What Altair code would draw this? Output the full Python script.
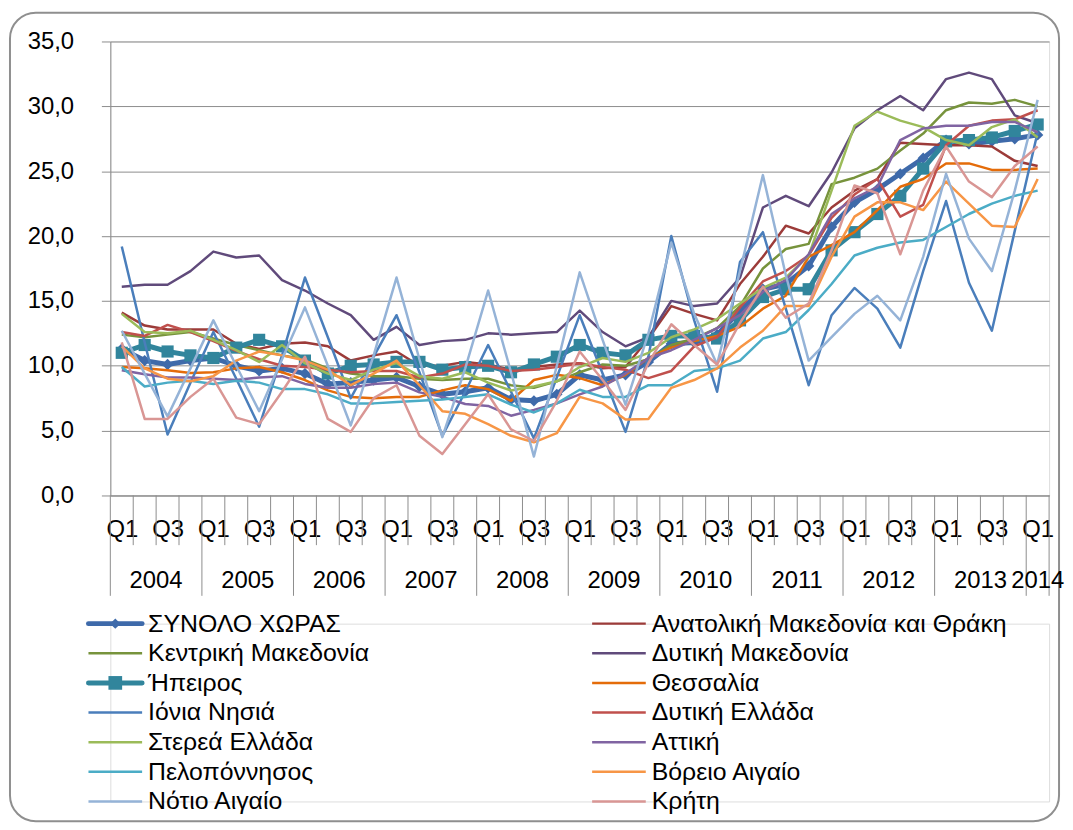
import json
import pandas as pd
import altair as alt

# ---------------- data ----------------
years = ["2004", "2005", "2006", "2007", "2008", "2009", "2010", "2011", "2012", "2013", "2014"]
quarters = ["Q1", "Q2", "Q3", "Q4"]
n_periods = 41  # 2004 Q1 .. 2014 Q1
y_ticks = [0, 5, 10, 15, 20, 25, 30, 35]

names = [
    "ΣΥΝΟΛΟ ΧΩΡΑΣ", "Ανατολική Μακεδονία και Θράκη",
    "Κεντρική Μακεδονία", "Δυτική Μακεδονία",
    "Ήπειρος", "Θεσσαλία",
    "Ιόνια Νησιά", "Δυτική Ελλάδα",
    "Στερεά Ελλάδα", "Αττική",
    "Πελοπόννησος", "Βόρειο Αιγαίο",
    "Νότιο Αιγαίο", "Κρήτη",
]
colors = [
    "#3E6AAA", "#9C3B39",
    "#77933C", "#604A7B",
    "#31859C", "#E46C0A",
    "#4A7EBB", "#C0504D",
    "#9BBB59", "#8064A2",
    "#4BACC6", "#F79646",
    "#95B3D7", "#D99694",
]
thick_names = ["ΣΥΝΟΛΟ ΧΩΡΑΣ", "Ήπειρος"]
marker_shapes = {"ΣΥΝΟΛΟ ΧΩΡΑΣ": "diamond", "Ήπειρος": "square"}

synolo = [11.3, 10.4, 10.1, 10.4, 10.6, 10.0, 9.6, 9.8, 9.4, 8.6, 8.7, 8.9, 9.1, 8.4, 7.8, 8.0, 8.3, 7.4, 7.3, 7.8,
          9.3, 8.9, 9.3, 10.3, 11.7, 11.8, 12.4, 14.2, 15.9, 16.3, 17.7, 20.7, 22.6, 23.6, 24.8, 26.0, 27.4, 27.1,
          27.3, 27.5, 27.8]
anatoliki = [14.1, 13.1, 12.8, 12.8, 12.8, 11.7, 11.3, 11.7, 11.8, 11.5, 10.4, 10.8, 11.1, 10.0, 10.0, 10.3, 10.1,
             9.7, 9.9, 10.1, 10.2, 9.8, 9.9, 12.1, 14.6, 14.0, 13.5, 16.3, 18.4, 20.8, 20.2, 22.2, 23.5, 24.4, 27.2,
             27.1, 27.0, 27.0, 26.9, 25.8, 25.4]
kentriki = [12.4, 12.2, 12.4, 12.6, 12.1, 11.6, 11.2, 10.8, 10.5, 9.8, 9.4, 9.2, 9.2, 9.0, 8.9, 9.0, 9.0, 8.5, 8.3,
            8.8, 9.5, 10.1, 10.0, 10.5, 11.6, 12.1, 12.9, 14.6, 17.5, 19.0, 19.4, 24.0, 24.5, 25.2, 26.6, 27.9,
            29.7, 30.3, 30.2, 30.5, 30.0]
dytiki_mak = [16.1, 16.25, 16.25, 17.3, 18.8, 18.35, 18.5, 16.6, 15.8, 14.8, 13.9, 12.0, 13.0, 11.6, 11.9, 12.0,
              12.5, 12.4, 12.5, 12.6, 14.25, 12.6, 11.5, 12.2, 15.0, 14.6, 14.8, 16.8, 22.2, 23.1, 22.3, 24.9,
              28.3, 29.7, 30.8, 29.7, 32.1, 32.6, 32.1, 29.3, 28.7]
ipeiros = [11.0, 11.6, 11.1, 10.8, 10.6, 11.4, 12.0, 11.5, 10.4, 9.4, 10.0, 10.1, 10.3, 10.3, 9.7, 9.9, 10.0, 9.5,
           10.1, 10.7, 11.6, 11.0, 10.8, 12.0, 12.3, 12.3, 12.1, 13.5, 15.3, 15.9, 15.9, 18.9, 20.3, 21.7, 23.1,
           25.2, 27.3, 27.4, 27.6, 28.1, 28.6]
thessalia = [9.9, 9.8, 9.65, 9.45, 9.5, 9.8, 9.9, 9.5, 8.9, 8.1, 7.6, 7.5, 7.6, 7.6, 8.1, 8.5, 8.2, 7.3, 8.9, 9.3,
             9.05, 8.5, 9.3, 10.6, 11.4, 11.9, 12.3, 13.0, 14.4, 15.4, 18.4, 19.3, 20.3, 22.0, 23.8, 24.4, 25.6,
             25.6, 25.1, 25.1, 25.2]
ionia = [19.2, 11.8, 4.7, 8.7, 12.6, 9.0, 5.3, 10.8, 16.8, 12.2, 7.5, 10.7, 13.9, 9.5, 4.6, 8.0, 11.6, 8.0, 4.4,
         9.1, 13.9, 9.4, 4.9, 10.7, 20.0, 13.5, 8.0, 18.0, 20.3, 14.4, 8.5, 13.9, 16.0, 14.4, 11.4, 17.3, 22.7,
         16.4, 12.7, 20.4, 28.0]
dytiki_ellada = [12.6, 12.3, 13.15, 12.6, 11.9, 11.15, 10.5, 10.0, 9.9, 9.7, 9.5, 9.6, 9.6, 9.1, 9.4, 10.1, 10.0,
                 9.6, 9.7, 9.9, 10.2, 9.9, 9.7, 9.05, 9.6, 11.5, 12.2, 14.5, 16.5, 17.3, 18.5, 21.4, 23.2, 24.4,
                 21.5, 22.4, 27.0, 28.5, 28.9, 29.0, 29.7]
sterea = [14.0, 12.6, 12.5, 12.7, 12.0, 11.2, 10.3, 11.6, 10.2, 9.4, 8.9, 9.7, 10.2, 9.2, 9.0, 9.5, 8.7, 8.1, 8.4,
          8.8, 9.9, 10.6, 10.3, 11.0, 12.2, 12.8, 13.6, 14.8, 16.0, 16.8, 18.5, 23.5, 28.5, 29.6, 28.9, 28.4,
          27.4, 27.0, 28.4, 29.0, 27.6]
attiki = [9.65, 9.35, 9.1, 9.1, 9.0, 8.9, 9.1, 9.2, 8.6, 8.3, 8.3, 8.6, 8.7, 7.95, 7.6, 7.05, 6.9, 6.15, 6.6, 7.1,
          7.8, 8.4, 9.4, 10.6, 11.2, 12.0, 12.9, 13.9, 15.7, 16.6, 18.6, 21.7, 22.9, 23.8, 27.4, 28.3, 28.5,
          28.5, 28.8, 28.8, 28.0]
peloponnisos = [9.9, 8.4, 8.7, 8.85, 8.6, 8.85, 8.7, 8.2, 8.2, 7.8, 7.1, 7.1, 7.2, 7.3, 7.4, 7.6, 7.8, 7.0, 6.4,
                7.1, 8.15, 7.6, 7.6, 8.5, 8.5, 9.6, 9.8, 10.4, 12.1, 12.6, 14.3, 16.3, 18.5, 19.1, 19.5, 19.7,
                20.7, 21.7, 22.5, 23.1, 23.5]
voreio = [11.5, 9.8, 9.0, 8.8, 9.2, 10.4, 11.1, 10.8, 10.4, 9.7, 8.5, 9.4, 10.4, 8.5, 6.5, 6.3, 5.5, 4.6, 4.1, 4.8,
          7.6, 7.1, 5.85, 5.9, 8.3, 8.9, 9.8, 11.4, 12.7, 14.6, 14.6, 18.4, 21.5, 22.6, 22.6, 22.0, 24.2, 22.5,
          20.8, 20.7, 24.4]
notio = [12.7, 9.4, 6.1, 9.8, 13.5, 10.0, 6.5, 10.5, 14.5, 10.0, 5.4, 10.8, 16.8, 10.5, 4.5, 9.8, 15.8, 9.5, 3.0,
         10.0, 17.2, 12.0, 7.0, 12.5, 19.5, 14.0, 10.1, 17.3, 24.7, 17.0, 10.4, 12.2, 14.0, 15.4, 13.5, 18.4,
         24.8, 19.8, 17.3, 23.5, 30.5]
kriti = [11.8, 5.9, 5.9, 7.6, 9.0, 6.0, 5.5, 8.0, 10.7, 5.9, 4.9, 7.5, 8.5, 4.6, 3.2, 5.5, 7.8, 5.1, 4.2, 7.3,
         11.1, 8.9, 6.6, 10.2, 13.2, 11.6, 10.1, 13.3, 16.1, 13.7, 14.8, 18.9, 23.9, 23.3, 18.6, 23.5, 26.9, 24.2,
         23.0, 25.4, 26.9]

series = [synolo, anatoliki, kentriki, dytiki_mak, ipeiros, thessalia, ionia, dytiki_ellada,
          sterea, attiki, peloponnisos, voreio, notio, kriti]

# ---------------- derived tables ----------------
period_quarter = [quarters[i % 4] for i in range(n_periods)]
period_year = [years[i // 4] for i in range(n_periods)]
x_labels = [q if i % 2 == 0 else "" for i, q in enumerate(period_quarter)]

rows = []
for name, vals in zip(names, series):
    for i, v in enumerate(vals):
        rows.append({"name": name, "t": i, "v": v})
df = pd.DataFrame(rows)

year_df = pd.DataFrame({
    "year": years,
    "t": [sum(i for i in range(n_periods) if period_year[i] == y) /
          sum(1 for i in range(n_periods) if period_year[i] == y) for y in years],
})

bounds = []
for k in range(n_periods + 1):
    is_year = (k == n_periods) or (period_quarter[k] == "Q1")
    bounds.append({"t": k - 0.5, "long": is_year})
bound_df = pd.DataFrame(bounds)

legend_df = pd.DataFrame({
    "name": names,
    "row": [k // 2 for k in range(len(names))],
    "col": [k % 2 for k in range(len(names))],
})

# ---------------- styling ----------------
GRID = "#8c8c8c"
FONT = "Liberation Sans"
W, H = 945, 457

label_expr = json.dumps(x_labels) + "[datum.value]"
color_scale = alt.Scale(domain=names, range=colors)


def xenc():
    return alt.X("t:Q",
                 scale=alt.Scale(domain=[-0.5, n_periods - 0.5], nice=False, zero=False),
                 axis=alt.Axis(values=list(range(n_periods)), labelExpr=label_expr, ticks=False,
                               grid=False, domainColor=GRID, domainWidth=1, labelFontSize=24,
                               labelPadding=22, labelColor="#000000", labelFlush=False,
                               labelOverlap=False, labelFont=FONT, title=None))


def yenc():
    return alt.Y("v:Q",
                 scale=alt.Scale(domain=[0, 35], nice=False, zero=True),
                 axis=alt.Axis(values=y_ticks,
                               labelExpr="replace(format(datum.value, '.1f'), '.', ',')",
                               tickSize=9, tickColor=GRID, domainColor=GRID, gridColor=GRID,
                               grid=True, labelFontSize=24, labelPadding=28, labelColor="#000000",
                               labelFont=FONT, title=None))


layers = []
for name in names:
    thick = name in thick_names
    base = alt.Chart(df).transform_filter(alt.datum.name == name)
    layers.append(base.mark_line(strokeWidth=5 if thick else 2.5, strokeJoin="round").encode(
        x=xenc(), y=yenc(),
        color=alt.Color("name:N", scale=color_scale, legend=None)))
    if name in marker_shapes:
        layers.append(base.mark_point(filled=True, opacity=1, shape=marker_shapes[name],
                                      size=130 if marker_shapes[name] == "diamond" else 150).encode(
            x=xenc(), y=yenc(),
            color=alt.Color("name:N", scale=color_scale, legend=None)))

short_ticks = alt.Chart(bound_df).transform_filter(alt.datum.long == False).mark_rule(
    color=GRID, strokeWidth=1).encode(x=xenc(), y=alt.value(H), y2=alt.value(H + 50))
long_ticks = alt.Chart(bound_df).transform_filter(alt.datum.long == True).mark_rule(
    color=GRID, strokeWidth=1).encode(x=xenc(), y=alt.value(H), y2=alt.value(H + 101))
year_text = alt.Chart(year_df).mark_text(fontSize=24, baseline="middle", align="center",
                                         font=FONT, color="#000000").encode(
    x=xenc(), y=alt.value(H + 86), text="year:N")
frame = alt.Chart(pd.DataFrame({"f": [0]})).mark_rect(
    filled=False, stroke="#8f8f8f", strokeWidth=2, cornerRadius=26).encode(
    x=alt.value(-101), x2=alt.value(955), y=alt.value(-29), y2=alt.value(785))

main = alt.layer(frame, short_ticks, long_ticks, year_text, *layers).properties(width=W, height=H)

# ---------------- legend panel ----------------
lx = alt.X("col:Q", scale=alt.Scale(domain=[0, 1], range=[0, 507]), axis=None)
ly = alt.Y("row:Q", scale=alt.Scale(domain=[0, 6], range=[0, 179]), axis=None)
lcolor = alt.Color("name:N", scale=color_scale, legend=None)

leg_base = alt.Chart(legend_df)
leg_thin = leg_base.transform_filter(
    ~alt.FieldOneOfPredicate(field="name", oneOf=thick_names)).mark_rule(
    strokeWidth=2.5, xOffset=-22, x2Offset=32).encode(x=lx, x2="col:Q", y=ly, color=lcolor)
leg_thick = leg_base.transform_filter(
    alt.FieldOneOfPredicate(field="name", oneOf=thick_names)).mark_rule(
    strokeWidth=5, xOffset=-22, x2Offset=32, strokeCap="round").encode(x=lx, x2="col:Q", y=ly, color=lcolor)
leg_marks = []
for name, shape in marker_shapes.items():
    leg_marks.append(leg_base.transform_filter(alt.datum.name == name).mark_point(
        filled=True, opacity=1, shape=shape, size=110 if shape == "diamond" else 190, xOffset=5).encode(
        x=lx, y=ly, color=lcolor))
leg_text = leg_base.mark_text(align="left", baseline="middle", dx=38, fontSize=25, font=FONT,
                              color="#000000").encode(x=lx, y=ly, text="name:N")

legend = alt.layer(leg_thin, leg_thick, *leg_marks, leg_text).properties(width=W, height=179)

chart = alt.vconcat(main, legend, spacing=129, bounds="flush").properties(
    padding={"left": 0, "top": 0, "right": 0, "bottom": 0}
).configure_view(strokeWidth=0).configure(background="white")

chart.save("out.html", embed_options={"renderer": "svg", "actions": False})
